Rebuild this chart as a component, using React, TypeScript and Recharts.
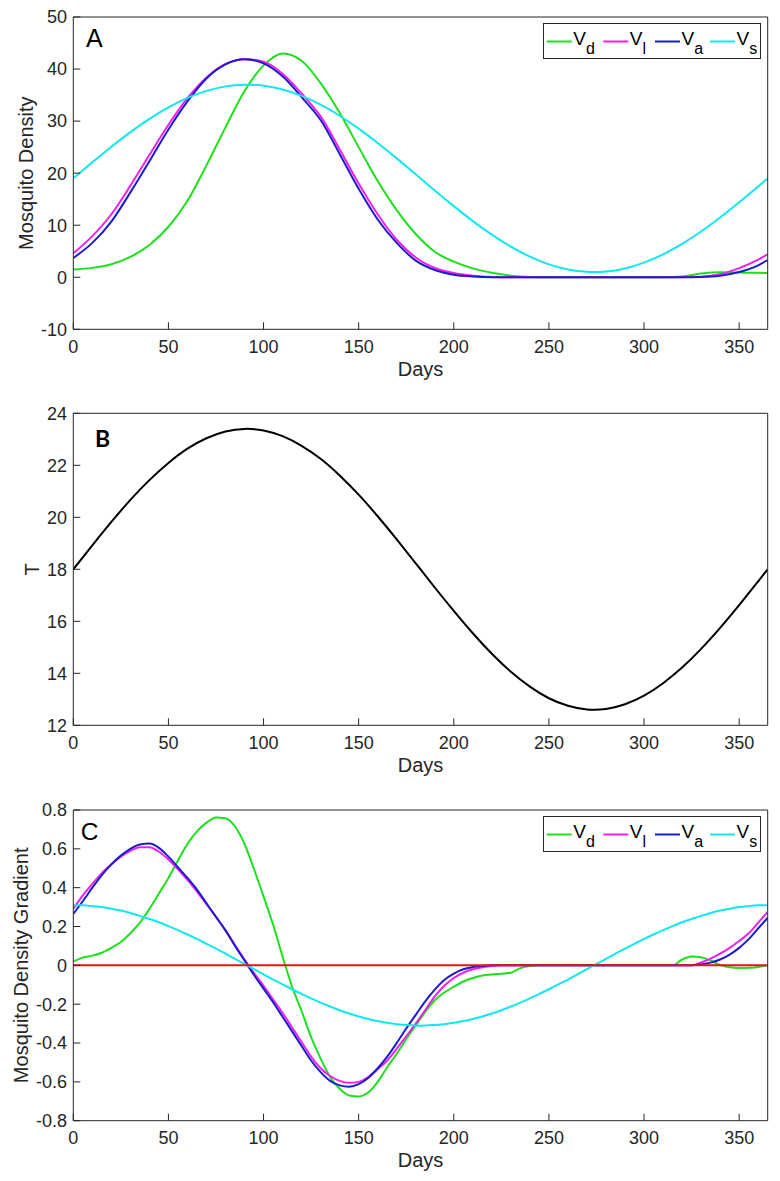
import React from 'react';
import { LineChart, Line, XAxis, YAxis, ReferenceLine, Legend } from 'recharts';

// sample days for panels A and B
const daysA = [0, 10, 20, 30, 40, 50, 60, 70, 80, 90, 100, 110, 120, 130, 140, 150, 160, 170, 180, 190,
  200, 210, 220, 230, 240, 250, 260, 270, 280, 290, 300, 310, 320, 330, 340, 350, 360, 365];

// A: mosquito density
const vdA = [1.5, 1.8, 2.5, 3.9, 6.2, 9.7, 14.7, 21.5, 28.8, 35.8, 40.7, 43.0, 41.6, 37.3, 31.6, 25.0, 18.5, 12.9, 8.3, 4.9,
  3.0, 1.7, 0.85, 0.3, 0.05, 0, 0, 0, 0, 0, 0, 0, 0.15, 0.7, 0.95, 0.9, 0.85, 0.8];
const vlA = [4.6, 7.9, 12.1, 17.6, 23.5, 29.3, 34.4, 38.4, 41.0, 41.9, 41.4, 39.1, 35.3, 30.9, 24.6, 18.0, 12.1, 7.2, 3.8, 1.8,
  0.8, 0.3, 0.05, 0, 0, 0, 0, 0, 0, 0, 0, 0, 0.02, 0.12, 0.6, 1.75, 3.4, 4.4];
const vaA = [3.7, 6.6, 10.7, 16.3, 22.3, 28.4, 33.8, 38.2, 40.9, 41.9, 41.1, 38.6, 34.6, 30.2, 23.7, 17.0, 11.1, 6.6, 3.2, 1.4,
  0.5, 0.15, 0.02, 0, 0, 0, 0, 0, 0, 0, 0, 0, 0, 0.05, 0.3, 1.0, 2.3, 3.3];
const vsA = [19.0, 22.08, 25.08, 27.89, 30.44, 32.65, 34.46, 35.8, 36.67, 37.0, 36.79, 36.07, 34.84, 33.15, 31.03, 28.55, 25.8, 22.84, 19.77, 16.68,
  13.66, 10.79, 8.18, 5.87, 3.95, 2.48, 1.5, 1.04, 1.1, 1.7, 2.81, 4.4, 6.41, 8.8, 11.49, 14.4, 17.45, 19.0];

// B: temperature
const tempB = [18.0, 18.92, 19.82, 20.67, 21.43, 22.09, 22.64, 23.04, 23.3, 23.4, 23.34, 23.12, 22.75, 22.25, 21.61, 20.87, 20.04, 19.15, 18.23, 17.3,
  16.4, 15.54, 14.75, 14.06, 13.49, 13.04, 12.75, 12.61, 12.63, 12.81, 13.14, 13.62, 14.22, 14.94, 15.75, 16.62, 17.54, 18.0];

// C: density gradient, every 5 days
const daysC = [0, 5, 10, 15, 20, 25, 30, 35, 40, 45, 50, 55, 60, 65, 70, 75, 80, 85, 90, 95,
  100, 105, 110, 115, 120, 125, 130, 135, 140, 145, 150, 155, 160, 165, 170, 175, 180, 185, 190, 195,
  200, 205, 210, 215, 220, 225, 230, 235, 240, 245, 250, 255, 260, 265, 270, 275, 280, 285, 290, 295,
  300, 305, 310, 315, 320, 325, 330, 335, 340, 345, 350, 355, 360, 365];
const gdC = [0.02, 0.04, 0.05, 0.065, 0.09, 0.12, 0.165, 0.22, 0.29, 0.37,
  0.45, 0.54, 0.625, 0.69, 0.735, 0.762, 0.758, 0.715, 0.625, 0.495,
  0.355, 0.21, 0.045, -0.11, -0.235, -0.37, -0.48, -0.575, -0.635, -0.67,
  -0.675, -0.655, -0.6, -0.525, -0.455, -0.38, -0.31, -0.24, -0.18, -0.14,
  -0.11, -0.083, -0.065, -0.052, -0.047, -0.043, -0.038, -0.014, -0.003, 0,
  0, 0, 0, 0, 0, 0, 0, 0, 0, 0,
  0, 0, 0, 0, 0.03, 0.046, 0.042, 0.025, 0.002, -0.01,
  -0.014, -0.013, -0.008, 0];
const glC = [0.29, 0.36, 0.42, 0.475, 0.52, 0.56, 0.59, 0.608, 0.608, 0.585,
  0.545, 0.495, 0.44, 0.38, 0.315, 0.25, 0.18, 0.105, 0.03, -0.04,
  -0.105, -0.175, -0.245, -0.32, -0.395, -0.47, -0.53, -0.57, -0.595, -0.605,
  -0.6, -0.575, -0.535, -0.49, -0.43, -0.365, -0.3, -0.23, -0.16, -0.105,
  -0.065, -0.038, -0.02, -0.01, -0.003, 0, 0, 0, 0, 0,
  0, 0, 0, 0, 0, 0, 0, 0, 0, 0,
  0, 0, 0, 0, 0, 0, 0.015, 0.035, 0.06, 0.09,
  0.125, 0.165, 0.22, 0.275];
const gaC = [0.265, 0.33, 0.4, 0.465, 0.52, 0.565, 0.6, 0.622, 0.627, 0.605,
  0.56, 0.505, 0.45, 0.39, 0.32, 0.25, 0.18, 0.1, 0.025, -0.05,
  -0.12, -0.19, -0.265, -0.34, -0.415, -0.49, -0.55, -0.595, -0.618, -0.625,
  -0.612, -0.58, -0.53, -0.47, -0.4, -0.325, -0.255, -0.185, -0.125, -0.075,
  -0.042, -0.02, -0.009, -0.003, 0, 0, 0, 0, 0, 0,
  0, 0, 0, 0, 0, 0, 0, 0, 0, 0,
  0, 0, 0, 0, 0, 0, 0.005, 0.014, 0.03, 0.055,
  0.09, 0.135, 0.19, 0.245];
const gsC = [0.31, 0.309, 0.305, 0.3, 0.292, 0.282, 0.27, 0.255, 0.239, 0.222,
  0.202, 0.181, 0.159, 0.136, 0.111, 0.086, 0.06, 0.033, 0.007, -0.02,
  -0.047, -0.073, -0.098, -0.123, -0.147, -0.17, -0.192, -0.212, -0.231, -0.248,
  -0.263, -0.276, -0.287, -0.296, -0.303, -0.307, -0.31, -0.31, -0.307, -0.303,
  -0.296, -0.287, -0.276, -0.263, -0.248, -0.231, -0.212, -0.192, -0.17, -0.147,
  -0.123, -0.098, -0.073, -0.047, -0.02, 0.007, 0.033, 0.06, 0.086, 0.111,
  0.136, 0.159, 0.181, 0.202, 0.222, 0.239, 0.255, 0.27, 0.282, 0.292,
  0.3, 0.305, 0.309, 0.31];

const xTicks = [0, 50, 100, 150, 200, 250, 300, 350];
const yTicksA = [-10, 0, 10, 20, 30, 40, 50];
const yTicksB = [12, 14, 16, 18, 20, 22, 24];
const yTicksC = [-0.8, -0.6, -0.4, -0.2, 0, 0.2, 0.4, 0.6, 0.8];

const seriesKeys = ['vd', 'vl', 'va', 'vs'];
const seriesSubs = ['d', 'l', 'a', 's'];
const seriesColors = ['#1ee01e', '#f020f0', '#1c1cc8', '#10e8f0'];
// the smooth seasonal curve gets a spline, the others stay monotone (flat zero stretches)
const seriesCurves = ['monotone', 'monotone', 'monotone', 'natural'] as const;

const rowsA = daysA.map((day, i) => ({ day, vd: vdA[i], vl: vlA[i], va: vaA[i], vs: vsA[i] }));
const rowsB = daysA.map((day, i) => ({ day, t: tempB[i] }));
const rowsC = daysC.map((day, i) => ({ day, vd: gdC[i], vl: glC[i], va: gaC[i], vs: gsC[i] }));

const FONT = '"Liberation Sans", Arial, Helvetica, sans-serif';
const INK = '#262626';
const tickText = { fontSize: 18, fill: INK, fontFamily: FONT };

const yTitle = (text: string, x: number, cy: number) => () => (
  <text x={x} y={cy} transform={`rotate(-90 ${x} ${cy})`} textAnchor="middle" fontSize={20} fill={INK} fontFamily={FONT}>
    {text}
  </text>
);

// matlab style box: inward ticks on all four sides
function frame(xHeight: number, yDomain: [number, number], yTicks: number[], title: string, titleX: number, titleY: number,
  fmt?: (v: number) => string) {
  return [
    <XAxis key="xb" dataKey="day" type="number" domain={[0, 365]} ticks={xTicks} interval={0} height={xHeight}
      tickSize={-7} tickMargin={17.7} tick={tickText} tickLine={{ stroke: INK }} axisLine={{ stroke: INK }} allowDataOverflow
      label={{ value: 'Days', position: 'insideBottom', offset: xHeight - 46.5, fontSize: 20, fill: INK, fontFamily: FONT }} />,
    <XAxis key="xt" xAxisId="top" orientation="top" type="number" domain={[0, 365]} ticks={xTicks} interval={0} height={1}
      tickSize={-7} tick={false} tickLine={{ stroke: INK }} axisLine={{ stroke: INK }} allowDataOverflow />,
    <YAxis key="yl" type="number" domain={yDomain} ticks={yTicks} interval={0} width={73.3}
      tickSize={-7} tickMargin={13.3} tick={tickText} tickFormatter={fmt} tickLine={{ stroke: INK }} axisLine={{ stroke: INK }}
      allowDataOverflow label={{ content: yTitle(title, titleX, titleY) }} />,
    <YAxis key="yr" yAxisId="right" orientation="right" type="number" domain={yDomain} ticks={yTicks} interval={0} width={1}
      tickSize={-7} tick={false} tickLine={{ stroke: INK }} axisLine={{ stroke: INK }} allowDataOverflow />,
  ];
}

const LegendBox = () => {
  const slots = [3.7, 60.3, 112, 167];
  return (
    <svg width={218} height={36} style={{ display: 'block' }}>
      <rect x={0.5} y={0.5} width={217} height={35} fill="#fff" stroke={INK} strokeWidth={1} />
      {seriesSubs.map((sub, i) => (
        <g key={sub} transform={`translate(${slots[i]},0)`}>
          <line x1={0} y1={18.5} x2={25} y2={18.5} stroke={seriesColors[i]} strokeWidth={2} />
          <text x={26.5} y={22} fontSize={19} fontFamily={FONT} fill="#000">
            V<tspan fontSize={16} dy={9}>{sub}</tspan>
          </text>
        </g>
      ))}
    </svg>
  );
};

const seriesLines = () =>
  seriesKeys.map((k, i) => (
    <Line key={k} dataKey={k} type={seriesCurves[i]} stroke={seriesColors[i]} strokeWidth={2} dot={false} activeDot={false}
      isAnimationActive={false} />
  ));

const fmtC = (v: number) => (Math.abs(v) < 1e-9 ? '0' : v.toFixed(1));

export default function App() {
  return (
    <div style={{ position: 'absolute', left: 0, top: 0, width: 780, height: 1181, background: '#fff', fontFamily: FONT }}>
      <div style={{ position: 'absolute', left: 0, top: 0 }}>
        <LineChart width={780} height={380} data={rowsA} margin={{ top: 16, right: 11.3, bottom: 0, left: 0 }}>
          {frame(50.7, [-10, 50], yTicksA, 'Mosquito Density', 33.3, 173.2)}
          {seriesLines()}
          <Legend layout="horizontal" verticalAlign="middle" align="center" content={() => <LegendBox />}
            wrapperStyle={{ left: 543, top: 23, width: 218, height: 36 }} />
        </LineChart>
      </div>

      <div style={{ position: 'absolute', left: 0, top: 380 }}>
        <LineChart width={780} height={400} data={rowsB} margin={{ top: 32.3, right: 11.3, bottom: 0, left: 0 }}>
          {frame(54.7, [12, 24], yTicksB, 'T', 39.3, 189.3)}
          <Line dataKey="t" type="natural" stroke="#000" strokeWidth={2} dot={false} activeDot={false} isAnimationActive={false} />
        </LineChart>
      </div>

      <div style={{ position: 'absolute', left: 0, top: 780 }}>
        <LineChart width={780} height={401} data={rowsC} margin={{ top: 29, right: 11.3, bottom: 0, left: 0 }}>
          {frame(60.3, [-0.8, 0.8], yTicksC, 'Mosquito Density Gradient', 28.3, 185.3, fmtC)}
          {seriesLines()}
          <ReferenceLine y={0} stroke="#ee1111" strokeWidth={2} />
          <Legend layout="horizontal" verticalAlign="middle" align="center" content={() => <LegendBox />}
            wrapperStyle={{ left: 543, top: 36, width: 218, height: 36 }} />
        </LineChart>
      </div>

      <svg width={780} height={1181} style={{ position: 'absolute', left: 0, top: 0, pointerEvents: 'none' }}>
        <text x={86} y={47} fontSize={25} fontFamily={FONT} fill="#000">A</text>
        <text x={95} y={446.7} fontSize={23} fontWeight={700} fontFamily="Lato, 'Open Sans', sans-serif" fill="#000">B</text>
        <text x={80.7} y={840} fontSize={24.5} fontFamily={FONT} fill="#000">C</text>
      </svg>
    </div>
  );
}
